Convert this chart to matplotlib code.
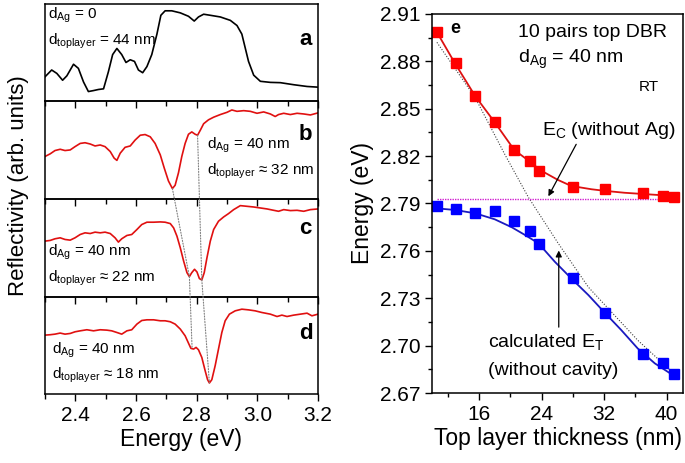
import numpy as np
import matplotlib.pyplot as plt
from matplotlib.patches import ConnectionPatch
from matplotlib.ticker import MultipleLocator, FormatStrFormatter

plt.rcParams['font.family'] = ['Liberation Sans', 'DejaVu Sans']
plt.rcParams['mathtext.fontset'] = 'custom'
plt.rcParams['mathtext.rm'] = 'Liberation Sans'
plt.rcParams['mathtext.default'] = 'regular'

# ---- reflectivity spectra (arb. units, normalised to panel height) ----
ea = [2.300, 2.322, 2.339, 2.358, 2.372, 2.394, 2.410, 2.427, 2.443, 2.460, 2.476, 2.493,
      2.509, 2.523, 2.537, 2.553, 2.567, 2.581, 2.595, 2.608, 2.622, 2.636, 2.652, 2.669,
      2.682, 2.696, 2.718, 2.746, 2.773, 2.792, 2.806, 2.823, 2.845, 2.878, 2.911, 2.933,
      2.949, 2.960, 2.971, 2.988, 3.010, 3.043, 3.076, 3.120, 3.164, 3.200]
ra = [0.253, 0.323, 0.288, 0.218, 0.263, 0.382, 0.340, 0.200, 0.102, 0.112, 0.123, 0.130,
      0.305, 0.481, 0.544, 0.481, 0.400, 0.428, 0.411, 0.323, 0.295, 0.358, 0.481, 0.691,
      0.884, 0.930, 0.930, 0.909, 0.874, 0.825, 0.867, 0.895, 0.884, 0.867, 0.832, 0.779,
      0.691, 0.551, 0.411, 0.270, 0.207, 0.196, 0.193, 0.172, 0.154, 0.147]

eb = [2.300, 2.317, 2.333, 2.350, 2.366, 2.383, 2.399, 2.416, 2.432, 2.449, 2.465, 2.482,
      2.498, 2.515, 2.528, 2.537, 2.548, 2.564, 2.581, 2.597, 2.614, 2.630, 2.647, 2.663,
      2.680, 2.693, 2.707, 2.720, 2.729, 2.740, 2.751, 2.762, 2.773, 2.784, 2.795, 2.803,
      2.812, 2.823, 2.839, 2.856, 2.878, 2.900, 2.916, 2.933, 2.955, 2.977, 2.999, 3.021,
      3.043, 3.059, 3.070, 3.087, 3.109, 3.131, 3.153, 3.175, 3.200]
rb = [0.436, 0.463, 0.497, 0.510, 0.497, 0.503, 0.537, 0.570, 0.577, 0.564, 0.544, 0.554,
      0.537, 0.487, 0.419, 0.396, 0.470, 0.530, 0.544, 0.604, 0.654, 0.661, 0.638, 0.570,
      0.453, 0.319, 0.185, 0.107, 0.141, 0.268, 0.436, 0.570, 0.664, 0.688, 0.664, 0.654,
      0.705, 0.772, 0.812, 0.839, 0.866, 0.889, 0.913, 0.899, 0.906, 0.899, 0.879, 0.893,
      0.872, 0.846, 0.866, 0.879, 0.866, 0.879, 0.872, 0.862, 0.883]

ec = [2.300, 2.317, 2.333, 2.350, 2.366, 2.383, 2.399, 2.416, 2.432, 2.449, 2.465, 2.482,
      2.498, 2.515, 2.531, 2.542, 2.553, 2.570, 2.586, 2.603, 2.619, 2.636, 2.658, 2.680,
      2.696, 2.713, 2.724, 2.735, 2.746, 2.757, 2.768, 2.776, 2.784, 2.793, 2.801, 2.809,
      2.817, 2.825, 2.834, 2.845, 2.856, 2.872, 2.889, 2.905, 2.922, 2.944, 2.966, 2.988,
      3.010, 3.032, 3.054, 3.070, 3.087, 3.109, 3.131, 3.153, 3.175, 3.200]
rc = [0.568, 0.575, 0.592, 0.602, 0.585, 0.578, 0.602, 0.636, 0.653, 0.646, 0.660, 0.653,
      0.660, 0.646, 0.602, 0.558, 0.592, 0.626, 0.636, 0.687, 0.738, 0.762, 0.762, 0.765,
      0.762, 0.748, 0.704, 0.619, 0.500, 0.364, 0.245, 0.204, 0.245, 0.279, 0.252, 0.184,
      0.170, 0.245, 0.398, 0.568, 0.687, 0.772, 0.816, 0.850, 0.891, 0.932, 0.925, 0.918,
      0.908, 0.898, 0.884, 0.874, 0.891, 0.881, 0.884, 0.874, 0.891, 0.898]

ed = [2.300, 2.317, 2.333, 2.350, 2.366, 2.383, 2.399, 2.416, 2.438, 2.460, 2.482, 2.504,
      2.520, 2.537, 2.553, 2.570, 2.586, 2.603, 2.619, 2.636, 2.658, 2.680, 2.696, 2.713,
      2.729, 2.746, 2.762, 2.773, 2.781, 2.790, 2.798, 2.806, 2.817, 2.828, 2.836, 2.842,
      2.850, 2.861, 2.872, 2.883, 2.894, 2.908, 2.927, 2.949, 2.971, 2.993, 3.015, 3.043,
      3.065, 3.081, 3.098, 3.120, 3.142, 3.164, 3.180, 3.200]
rd = [0.604, 0.608, 0.614, 0.625, 0.614, 0.621, 0.638, 0.648, 0.659, 0.648, 0.659, 0.655,
      0.648, 0.631, 0.614, 0.648, 0.659, 0.717, 0.754, 0.761, 0.761, 0.751, 0.751, 0.741,
      0.717, 0.666, 0.597, 0.522, 0.468, 0.461, 0.478, 0.454, 0.375, 0.239, 0.147, 0.113,
      0.147, 0.290, 0.461, 0.631, 0.751, 0.819, 0.853, 0.870, 0.863, 0.853, 0.836, 0.819,
      0.795, 0.809, 0.795, 0.809, 0.819, 0.829, 0.802, 0.819]

# dips followed from panel to panel (energy, level) in b, c, d
dip1 = [(2.720, 0.107), (2.776, 0.204), (2.785, 0.465)]
dip2 = [(2.803, 0.654), (2.817, 0.170), (2.842, 0.113)]

# ---- panel e: energies vs top layer thickness ----
thick = [10.6, 13.0, 15.5, 18.0, 20.5, 22.5, 23.7, 28.0, 32.1, 37.0, 39.5, 41.0]
e_up = [2.8984, 2.8788, 2.858, 2.8414, 2.8239, 2.8167, 2.8108, 2.8002, 2.7994, 2.7968, 2.7949, 2.7939]
e_lo = [2.7886, 2.7865, 2.7842, 2.7852, 2.7789, 2.7726, 2.7641, 2.7426, 2.7208, 2.6945, 2.6892, 2.6820]

fit_up_x = [10.6, 12.9, 15.5, 18.0, 20.5, 22.5, 23.8, 26.1, 27.8, 30.4, 32.1, 34.6, 37.0, 39.5, 40.9]
fit_up_y = [2.8984, 2.8788, 2.858, 2.8414, 2.8239, 2.8165, 2.8112, 2.8049, 2.8011, 2.799, 2.798,
            2.7968, 2.796, 2.7952, 2.7947]
fit_lo_x = [10.6, 12.9, 15.5, 18.0, 20.2, 21.9, 23.6, 25.7, 27.8, 30.0, 32.1, 34.2, 36.3, 38.5, 40.8]
fit_lo_y = [2.7869, 2.7859, 2.7838, 2.7800, 2.7749, 2.7700, 2.7648, 2.7531, 2.7426, 2.7320,
            2.7208, 2.7099, 2.6983, 2.6888, 2.6814]

et_x = [10.6, 15.5, 19.3, 22.3, 26.1, 30.0, 36.3, 40.8]
et_y = [2.892, 2.857, 2.821, 2.794, 2.765, 2.737, 2.7035, 2.683]
ec_level = 2.7926

fig = plt.figure(figsize=(6.85, 4.63), dpi=100)

spectra = [(ea, ra, 'black'), (eb, rb, '#e01010'), (ec, rc, '#e01010'), (ed, rd, '#e01010')]
axs = []
for i, (x, y, col) in enumerate(spectra):
    ax = fig.add_axes([0.0657, 0.149 + (3 - i) * 0.2106, 0.3985, 0.2106])
    ax.patch.set_visible(False)
    ax.plot(x, y, color=col, lw=1.2)
    ax.set_xlim(2.3, 3.2)
    ax.set_ylim(0, 1)
    ax.set_yticks([])
    ax.xaxis.set_major_locator(MultipleLocator(0.2))
    ax.xaxis.set_minor_locator(MultipleLocator(0.1))
    ax.xaxis.set_major_formatter(FormatStrFormatter('%.1f'))
    ax.tick_params(axis='x', which='both', direction='out', labelsize=15, width=1)
    ax.tick_params(axis='x', which='major', length=5)
    ax.tick_params(axis='x', which='minor', length=3.5)
    if i < 3:
        ax.tick_params(axis='x', labelbottom=False)
    for s in ax.spines.values():
        s.set_linewidth(1.1)
    axs.append(ax)

axs[3].set_xlabel('Energy (eV)', fontsize=16.5, labelpad=2)
fig.text(0.027, 0.60, 'Reflectivity (arb. units)', rotation=90, fontsize=16,
         ha='center', va='center')

# labels in panels
tfs = 11
axs[0].text(0.01, 0.88, r'd$_{Ag}$ = 0', transform=axs[0].transAxes, fontsize=tfs, va='center')
axs[0].text(0.01, 0.62, r'd$_{toplayer}$ = 44 nm', transform=axs[0].transAxes, fontsize=tfs, va='center')
axs[1].text(0.595, 0.55, r'd$_{Ag}$ = 40 nm', transform=axs[1].transAxes, fontsize=tfs, va='center')
axs[1].text(0.595, 0.28, r'd$_{toplayer}$ ≈ 32 nm', transform=axs[1].transAxes, fontsize=tfs, va='center')
axs[2].text(0.01, 0.45, r'd$_{Ag}$ = 40 nm', transform=axs[2].transAxes, fontsize=tfs, va='center')
axs[2].text(0.01, 0.19, r'd$_{toplayer}$ ≈ 22 nm', transform=axs[2].transAxes, fontsize=tfs, va='center')
axs[3].text(0.025, 0.45, r'd$_{Ag}$ = 40 nm', transform=axs[3].transAxes, fontsize=tfs, va='center')
axs[3].text(0.025, 0.19, r'd$_{toplayer}$ ≈ 18 nm', transform=axs[3].transAxes, fontsize=tfs, va='center')
for ax, lab, yy in zip(axs, 'abcd', [0.64, 0.66, 0.70, 0.62]):
    ax.text(0.955, yy, lab, transform=ax.transAxes, fontsize=16, fontweight='bold',
            ha='center', va='center')

# dotted guides between panels
for pts in (dip1, dip2):
    for k in range(2):
        con = ConnectionPatch(xyA=pts[k], coordsA=axs[k + 1].transData,
                              xyB=pts[k + 1], coordsB=axs[k + 2].transData,
                              color='gray', lw=0.8, linestyle=(0, (1, 1.5)))
        fig.add_artist(con)

# ---- panel e ----
ae = fig.add_axes([0.631, 0.151, 0.366, 0.819])
ae.plot(et_x, et_y, color='#404040', lw=0.8, linestyle=(0, (1, 1.5)))
ae.axhline(ec_level, xmin=0.02, xmax=0.985, color='#d020d0', lw=1.0, linestyle=(0, (1, 0.8)))
ae.plot(fit_up_x, fit_up_y, color='#dd1111', lw=1.3)
ae.plot(fit_lo_x, fit_lo_y, color='#1a1ac0', lw=1.3)
ae.plot(thick, e_up, 's', color='#ff0000', ms=6.8, clip_on=False)
ae.plot(thick, e_lo, 's', color='#0000ff', ms=6.8, clip_on=False)
ae.set_xlim(10, 42.1)
ae.set_ylim(2.67, 2.91)
ae.xaxis.set_major_locator(MultipleLocator(8))
ae.xaxis.set_minor_locator(MultipleLocator(4))
ae.yaxis.set_major_locator(MultipleLocator(0.03))
ae.yaxis.set_minor_locator(MultipleLocator(0.015))
ae.yaxis.set_major_formatter(FormatStrFormatter('%.2f'))
ae.set_xticks([16, 24, 32, 40])
ae.tick_params(which='both', direction='out', labelsize=15, width=1)
ae.tick_params(which='major', length=5)
ae.tick_params(which='minor', length=3)
for s in ae.spines.values():
    s.set_linewidth(1.1)
ae.set_xlabel('Top layer thickness (nm)', fontsize=16.5, labelpad=2)
ae.set_ylabel('Energy (eV)', fontsize=16.5, labelpad=4)

ae.text(12.9, 2.9005, 'e', fontsize=13, fontweight='bold', ha='center', va='center')
ae.text(21.0, 2.898, '10 pairs top DBR', fontsize=14, va='center')
ae.text(21.0, 2.881, r'd$_{Ag}$ = 40 nm', fontsize=14, va='center')
ae.text(36.4, 2.864, 'RT', fontsize=11, va='center')
ae.text(24.0, 2.8365, r'E$_C$ (without Ag)', fontsize=14, va='center')
ae.text(17.1, 2.7023, r'calculated E$_T$', fontsize=14, va='center')
ae.text(17.1, 2.6845, '(without cavity)', fontsize=14, va='center')
ae.annotate('', xy=(24.7, 2.793), xytext=(28.6, 2.829),
            arrowprops=dict(arrowstyle='-|>', color='black', lw=0.9, mutation_scale=9))
ae.annotate('', xy=(26.2, 2.762), xytext=(26.2, 2.710),
            arrowprops=dict(arrowstyle='-|>', color='black', lw=0.9, mutation_scale=9))

fig.savefig('out.png', dpi=100)
